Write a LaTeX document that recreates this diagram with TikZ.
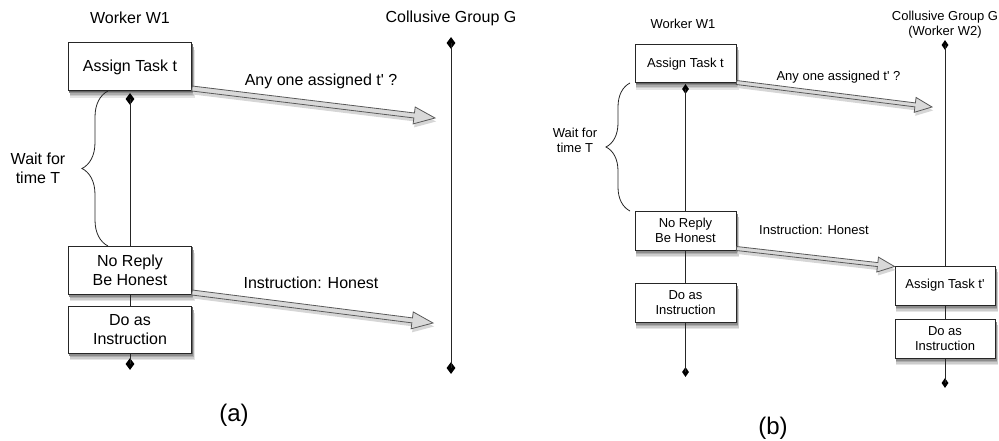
\documentclass[tikz,border=0pt]{standalone}
\usepackage{fontspec}
\newfontfamily\af{Liberation Sans}
\usetikzlibrary{calc,shapes.geometric,decorations.pathreplacing}
\newcommand\fatarr[5]{%
  \coordinate (#1-k) at ($(#2)!#5!(#1)$);
  \fill[black!16,transform canvas={shift={(1pt,-3.5pt)}}] ($(#1)!#3!90:(#2)$) -- ($(#1-k)!#3!-90:(#1)$) -- ($(#1-k)!#4!-90:(#1)$) -- (#2)
    -- ($(#1-k)!#4!90:(#1)$) -- ($(#1-k)!#3!90:(#1)$) -- ($(#1)!#3!-90:(#2)$) -- cycle;
  \path[fat] ($(#1)!#3!90:(#2)$) -- ($(#1-k)!#3!-90:(#1)$) -- ($(#1-k)!#4!-90:(#1)$) -- (#2)
    -- ($(#1-k)!#4!90:(#1)$) -- ($(#1-k)!#3!90:(#1)$) -- ($(#1)!#3!-90:(#2)$) -- cycle;}
% shadow + box: name, x, y, half width, half height, style, text
\newcommand\shbox[7]{%
  \fill[black!10] (#2-#4+1,#3-#5+7) rectangle (#2+#4+3,#3+#5+7);
  \fill[black!20] (#2-#4+1,#3-#5+5.5) rectangle (#2+#4+2.5,#3+#5+5.5);
  \fill[black!32] (#2-#4+1,#3-#5+4) rectangle (#2+#4+2,#3+#5+4);
  \fill[black!45] (#2-#4+0.5,#3-#5+2.5) rectangle (#2+#4+1.5,#3+#5+2.5);
  \fill[black!60] (#2-#4+0.5,#3-#5+1.2) rectangle (#2+#4+1,#3+#5+1.2);
  \node[#6,minimum width=2*#4pt,minimum height=2*#5pt] (#1) at (#2,#3) {#7};}
\begin{document}
\begin{tikzpicture}[x=1pt,y=-1pt,
  fA/.style={font=\af\fontsize{16}{19}\selectfont},
  fB/.style={font=\af\fontsize{13}{15}\selectfont},
  box/.style={draw=black!85,line width=1pt,fill=white,align=center,inner sep=0pt},
  boxA/.style={box,fA},
  boxB/.style={box,fB},
  life/.style={draw=black!85,line width=0.8pt},
  dia/.style={diamond,fill=black,inner sep=0pt,minimum width=9pt,minimum height=12pt},
  diaB/.style={diamond,fill=black,inner sep=0pt,minimum width=7pt,minimum height=10pt},
  fat/.style={draw=black!65,fill=black!15,line width=0.8pt,line join=miter},
  brc/.style={draw=black!85,line width=0.8pt,decorate,decoration={brace,amplitude=#1}}
]
\useasboundingbox (0,0) rectangle (999,441);
% ---------- panel (a)
\node[fA] (hw1) at (130,18) {Worker W1};
\node[fA] (hg) at (451,18) {Collusive Group G};
\node[dia] (Gd1) at (451,43) {};
\node[dia] (Gd2) at (451,368) {};
\draw[life] (Gd1.center) -- (Gd2.center);
\shbox{L1}{130}{67}{61.5}{24}{boxA}{Assign Task t}
\shbox{L2}{130}{270}{61.5}{24}{boxA}{No Reply\\Be Honest}
\shbox{L3}{130}{329.5}{61.5}{23.5}{boxA}{Do as\\Instruction}
\node[dia] (Ld1) at (130,99) {};
\node[dia] (Ld2) at (130,364) {};
\draw[life] (Ld1.center) -- (L2.north);
\draw[life] (L2.south) -- (L3.north);
\draw[life] (L3.south) -- (Ld2.center);
\draw[brc=26pt] (108,246) -- (108,91);
\node[fA,align=center] (Lw) at (38,168.5) {Wait for\\time T};
\coordinate (La1s) at ($(L1.south east)+(0,-3)$);
\coordinate (La1e) at (435,118);
\fatarr{La1s}{La1e}{2.5pt}{8.5pt}{21pt}
\node[fA] (La1t) at (321,81) {Any one assigned t' ?};
\coordinate (La2s) at ($(L2.south east)+(0,-2)$);
\coordinate (La2e) at (433,323);
\fatarr{La2s}{La2e}{2.5pt}{8.5pt}{21pt}
\node[fA] (La2t) at (311,283) {Instruction: Honest};
\node[font=\af\fontsize{24}{28}\selectfont] (capa) at (234,415) {(a)};
% ---------- panel (b)
\node[fB] (hw1b) at (683,24) {Worker W1};
\node[fB,align=center] (hgb) at (945,25) {Collusive Group G\\(Worker W2)};
\shbox{R1}{685.5}{64}{50.5}{19}{boxB}{Assign Task t}
\shbox{R2}{685.5}{230.5}{50.5}{19.5}{boxB}{No Reply\\Be Honest}
\shbox{R3}{685.5}{302.5}{50.5}{19.5}{boxB}{Do as\\Instruction}
\node[diaB] (Rd1) at (685.5,89) {};
\node[diaB] (Rd2) at (685.5,372) {};
\draw[life] (Rd1.center) -- (R2.north);
\draw[life] (R2.south) -- (R3.north);
\draw[life] (R3.south) -- (Rd2.center);
\shbox{G1}{945}{285.5}{50}{19.5}{boxB}{Assign Task t'}
\shbox{G2}{945}{338.5}{50}{19.5}{boxB}{Do as\\Instruction}
\node[diaB] (Gb1) at (945,45) {};
\node[diaB] (Gb2) at (945,383) {};
\draw[life] (Gb1.center) -- (G1.north);
\draw[life] (G1.south) -- (G2.north);
\draw[life] (G2.south) -- (Gb2.center);
\draw[brc=24pt] (630,211) -- (630,83);
\node[fB,align=center] (Rw) at (575,140) {Wait for\\time T};
\coordinate (Ra1s) at ($(R1.south east)+(0,-1)$);
\coordinate (Ra1e) at (932,107);
\fatarr{Ra1s}{Ra1e}{2pt}{7.5pt}{17pt}
\node[fB] (Ra1t) at (838.5,77) {Any one assigned t' ?};
\coordinate (Ra2s) at ($(R2.south east)+(0,-2)$);
\coordinate (Ra2e) at ($(G1.north west)+(0,1)$);
\fatarr{Ra2s}{Ra2e}{2pt}{7.5pt}{17pt}
\node[fB] (Ra2t) at (814,230) {Instruction: Honest};
\node[font=\af\fontsize{24}{28}\selectfont] (capb) at (773,428) {(b)};
\end{tikzpicture}
\end{document}
